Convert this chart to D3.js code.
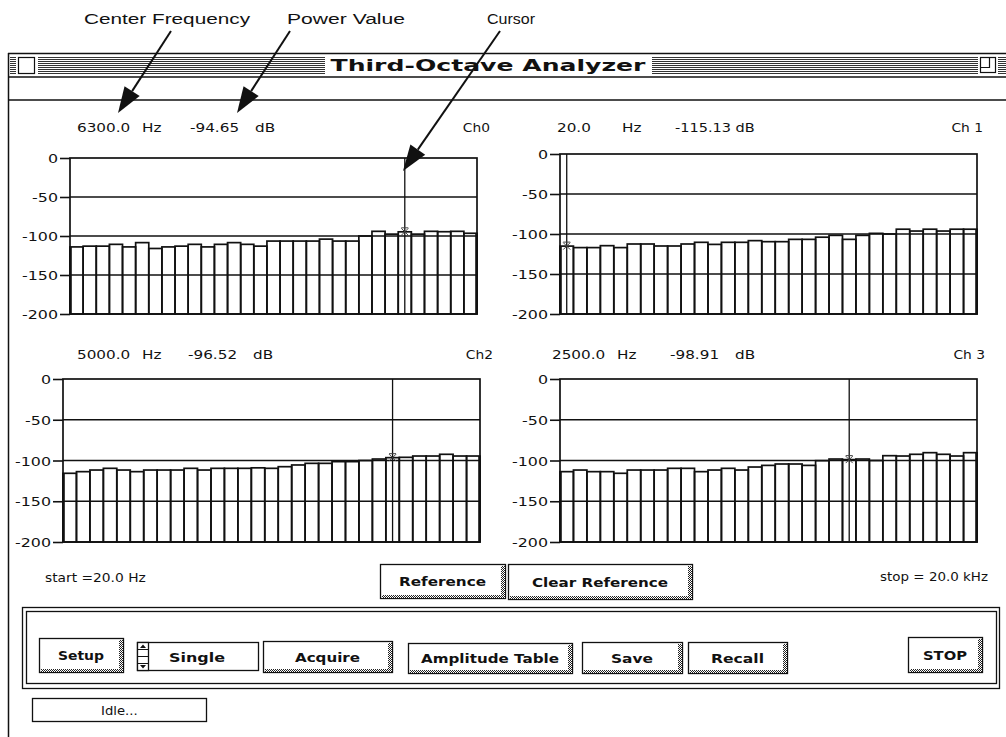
<!DOCTYPE html>
<html><head><meta charset="utf-8">
<script src="https://cdn.jsdelivr.net/npm/d3@7"></script>
<style>html,body{margin:0;padding:0;background:#fff;}svg{display:block;}</style>
</head><body>
<script>
// ---------- data ----------
const bands = ["20","25","31.5","40","50","63","80","100","125","160","200","250","315","400","500","630","800","1k","1.25k","1.6k","2k","2.5k","3.15k","4k","5k","6.3k","8k","10k","12.5k","16k","20k"];
const ch0 = [-114,-113,-113,-110.7,-114,-108.5,-116,-114,-113,-110.7,-114,-110.7,-108.5,-110.7,-113,-106.5,-106.5,-106.5,-106.5,-104,-106.5,-106.5,-100,-94,-97.6,-94.65,-97.6,-94,-94.5,-94,-96.5];
const ch1 = [-115.13,-117,-117,-114.6,-117,-112.5,-112.5,-115,-115,-112.5,-110.4,-113,-110.4,-110.4,-108.3,-109.6,-109.6,-106.7,-106.7,-104,-101.7,-106.7,-101.7,-99.2,-100,-94,-96.3,-94,-96.3,-94,-94];
const ch2 = [-115.7,-113.7,-111.7,-109.6,-111.7,-113.7,-111.7,-111.7,-111.7,-109.6,-111.7,-109.6,-109.6,-109.6,-109,-109.6,-107.6,-105.5,-103.5,-103.5,-101.4,-101.4,-100,-98.2,-96.52,-96.1,-94.5,-94.5,-92.4,-94.5,-94.5];
const ch3 = [-113.7,-111.7,-113.7,-113.7,-115.7,-111.7,-111.7,-111.7,-109.6,-109.6,-113.7,-111.7,-109.6,-111.7,-108,-106,-104.3,-104.3,-106,-100.2,-98.2,-98.91,-98.2,-100,-94.1,-94.5,-92.4,-90.4,-92.4,-94.5,-90.4];
const yTicks = [0,-50,-100,-150,-200];
const channelNames = ["Ch0","Ch 1","Ch2","Ch 3"];
const cursorBands = ["6.3k","20","5k","2.5k"];
const freqTexts = ["6300.0","20.0","5000.0","2500.0"];
const powerTexts = ["-94.65","-115.13","-96.52","-98.91"];
const buttonLabels = ["Setup","Acquire","Amplitude Table","Save","Recall","STOP"];
const refButtons = ["Reference","Clear Reference"];
const annotations = ["Center Frequency","Power Value","Cursor"];

// ---------- setup ----------
const W = 1006, H = 737;
const svg = d3.select("body").append("svg").attr("width", W).attr("height", H)
  .style("font-family", "'DejaVu Sans', sans-serif");
const defs = svg.append("defs");
const pat = defs.append("pattern").attr("id","dither").attr("width",2).attr("height",2).attr("patternUnits","userSpaceOnUse");
pat.append("rect").attr("width",2).attr("height",2).attr("fill","#fff");
pat.append("rect").attr("width",1).attr("height",1).attr("fill","#222");
pat.append("rect").attr("x",1).attr("y",1).attr("width",1).attr("height",1).attr("fill","#222");
const ink = "#111";

function txt(parent, x, y, s, o = {}) {
  const sx = o.sx || 1;
  const t = parent.append("text")
    .attr("transform", `translate(${x},${y}) scale(${sx},1)`)
    .attr("text-anchor", o.anchor || "start")
    .attr("font-size", o.size || 12)
    .attr("font-weight", o.weight || "normal")
    .attr("font-family", o.family || null)
    .attr("fill", ink)
    .text(s);
  if (o.len) t.attr("textLength", o.len / sx).attr("lengthAdjust", "spacingAndGlyphs");
  return t;
}

// ---------- window frame ----------
svg.append("line").attr("x1",8.5).attr("x2",8.5).attr("y1",53).attr("y2",H).attr("stroke",ink).attr("stroke-width",1.5);
svg.append("line").attr("x1",8).attr("x2",W).attr("y1",53.5).attr("y2",53.5).attr("stroke",ink).attr("stroke-width",1.5);
svg.append("line").attr("x1",8).attr("x2",W).attr("y1",77).attr("y2",77).attr("stroke",ink).attr("stroke-width",1.5);
svg.append("line").attr("x1",8).attr("x2",W).attr("y1",100).attr("y2",100).attr("stroke",ink).attr("stroke-width",1.5);
// title bar stripes
const stripeY = d3.range(57, 74, 2);
[[10,16],[38,325],[652,978],[998,W]].forEach(([a,b]) => {
  stripeY.forEach(y => svg.append("line").attr("x1",a).attr("x2",b).attr("y1",y+0.5).attr("y2",y+0.5).attr("stroke","#333").attr("stroke-width",1));
});
svg.append("rect").attr("x",18.5).attr("y",57.5).attr("width",16).attr("height",16).attr("fill","#fff").attr("stroke",ink).attr("stroke-width",1.2);
svg.append("rect").attr("x",980.5).attr("y",57.5).attr("width",15).attr("height",15).attr("fill","#fff").attr("stroke",ink).attr("stroke-width",1.2);
svg.append("path").attr("d","M980.5,67.5 H989.5 V57.5").attr("fill","none").attr("stroke",ink).attr("stroke-width",1.2);
txt(svg, 488, 71, "Third-Octave Analyzer", {anchor:"middle", size:15, weight:"bold", len:315});

// ---------- panels ----------
const panels = [
  {data: ch0, left:70, right:477, top:158, bottom:314, hy:132, fx:77, hzx:142, px:190, dbx:255, chx:490},
  {data: ch1, left:560, right:977, top:154, bottom:314, hy:132, fx:557, hzx:622, px:675, dbx:735, chx:983},
  {data: ch2, left:63, right:480, top:379, bottom:542, hy:359, fx:77, hzx:142, px:188, dbx:253, chx:493},
  {data: ch3, left:560, right:977, top:379, bottom:542, hy:359, fx:552, hzx:617, px:670, dbx:735, chx:985}
];
const SX = 1.27;

panels.forEach((p, i) => {
  const g = svg.append("g");
  const x = d3.scaleBand().domain(bands).range([p.left, p.right]).paddingInner(0).paddingOuter(0);
  const y = d3.scaleLinear().domain([-200, 0]).range([p.bottom, p.top]);

  // header texts
  txt(g, p.fx, p.hy, freqTexts[i], {size:12, sx:SX});
  txt(g, p.hzx, p.hy, "Hz", {size:12, sx:SX});
  if (i === 1) {
    txt(g, p.px, p.hy, powerTexts[i] + " dB", {size:12, sx:SX - 0.06});
  } else {
    txt(g, p.px, p.hy, powerTexts[i], {size:12, sx:SX});
    txt(g, p.dbx, p.hy, "dB", {size:12, sx:SX});
  }
  txt(g, p.chx, p.hy, channelNames[i], {size:12, sx:1.15, anchor:"end"});

  // bars (outline only)
  g.append("g").selectAll("rect").data(p.data).join("rect")
    .attr("x", (d, j) => x(bands[j]))
    .attr("y", d => y(d))
    .attr("width", x.bandwidth())
    .attr("height", d => y(-200) - y(d))
    .attr("fill", "none").attr("stroke", ink).attr("stroke-width", 1.7);

  // grid lines
  g.append("g").selectAll("line").data(yTicks.filter(t => t !== 0 && t !== -200)).join("line")
    .attr("x1", p.left).attr("x2", p.right)
    .attr("y1", d => y(d)).attr("y2", d => y(d))
    .attr("stroke", ink).attr("stroke-width", 1.6);

  // frame
  g.append("rect").attr("x", p.left).attr("y", p.top).attr("width", p.right - p.left).attr("height", p.bottom - p.top)
    .attr("fill", "none").attr("stroke", ink).attr("stroke-width", 1.7);
  g.append("line").attr("x1", p.left + 0.5).attr("x2", p.left + 0.5).attr("y1", y(p.data[0])).attr("y2", p.bottom)
    .attr("stroke", ink).attr("stroke-width", 2.6);
  g.append("line").attr("x1", p.right - 0.5).attr("x2", p.right - 0.5).attr("y1", y(p.data[p.data.length-1])).attr("y2", p.bottom)
    .attr("stroke", ink).attr("stroke-width", 2.6);

  // axis
  const ax = g.append("g").attr("transform", `translate(${p.left},0)`)
    .call(d3.axisLeft(y).tickValues(yTicks).tickSize(10).tickPadding(2).tickFormat(d => String(d)));
  ax.select(".domain").remove();
  ax.selectAll(".tick line").attr("stroke", ink).attr("stroke-width", 1.6);
  ax.selectAll(".tick text")
    .attr("x", null).attr("dy", "0.36em")
    .attr("transform", `translate(-12,0) scale(${SX},1)`)
    .attr("font-size", 12.5).attr("font-family", "'DejaVu Sans', sans-serif").attr("fill", ink);

  // cursor
  const ci = bands.indexOf(cursorBands[i]);
  const cx = x(cursorBands[i]) + x.bandwidth() / 2;
  g.append("line").attr("x1", cx).attr("x2", cx).attr("y1", p.top).attr("y2", p.bottom)
    .attr("stroke", ink).attr("stroke-width", 1.3);
  const cy = y(p.data[ci]);
  g.append("path").attr("d", `M${cx-3.5},${cy-3.5}L${cx+3.5},${cy+3.5}M${cx+3.5},${cy-3.5}L${cx-3.5},${cy+3.5}M${cx-3.5},${cy-4}H${cx+3.5}`)
    .attr("stroke", "#444").attr("stroke-width", 1).attr("fill", "none");
});

// ---------- bottom controls ----------
txt(svg, 45, 582, "start  =20.0 Hz", {size:12, sx:1.15});
txt(svg, 988, 581, "stop  = 20.0 kHz", {size:12, sx:1.12, anchor:"end"});

function button(x0, y0, w, h, label, opts = {}) {
  const g = svg.append("g");
  g.append("rect").attr("x", x0 + 0.5).attr("y", y0 + 0.5).attr("width", w).attr("height", h)
    .attr("fill", "#fff").attr("stroke", ink).attr("stroke-width", 1.3);
  if (!opts.noShadow) {
    g.append("rect").attr("x", x0 + w - 4).attr("y", y0 + 2).attr("width", 4).attr("height", h - 2).attr("fill", "url(#dither)");
    g.append("rect").attr("x", x0 + 2).attr("y", y0 + h - 3).attr("width", w - 2).attr("height", 3).attr("fill", "url(#dither)");
  }
  txt(g, opts.tx != null ? opts.tx : x0 + w / 2, y0 + h / 2 + 5, label,
      {anchor:"middle", size:12.5, weight:"bold", len: opts.len});
  return g;
}

button(380, 564, 125, 34, refButtons[0], {len:87});
button(508, 564, 184, 35, refButtons[1], {len:136});

// group box (double line)
svg.append("rect").attr("x", 22.5).attr("y", 607.5).attr("width", 977).attr("height", 81).attr("fill","none").attr("stroke", ink).attr("stroke-width", 1.3);
svg.append("rect").attr("x", 26.5).attr("y", 611.5).attr("width", 970).attr("height", 72).attr("fill","none").attr("stroke", ink).attr("stroke-width", 1.3);

button(39, 638, 84, 34, buttonLabels[0], {len:46});
// Single selector
svg.append("rect").attr("x", 137.5).attr("y", 642.5).attr("width", 121).attr("height", 28).attr("fill","#fff").attr("stroke", ink).attr("stroke-width", 1.3);
svg.append("rect").attr("x", 137.5).attr("y", 642.5).attr("width", 11).attr("height", 28).attr("fill","#fff").attr("stroke", ink).attr("stroke-width", 1.3);
svg.append("line").attr("x1",137.5).attr("x2",148.5).attr("y1",649.5).attr("y2",649.5).attr("stroke",ink);
svg.append("line").attr("x1",137.5).attr("x2",148.5).attr("y1",656.5).attr("y2",656.5).attr("stroke",ink);
svg.append("line").attr("x1",137.5).attr("x2",148.5).attr("y1",663.5).attr("y2",663.5).attr("stroke",ink);
svg.append("path").attr("d","M140,648 L143,644.5 L146,648 Z M140,665 L143,668.5 L146,665 Z").attr("fill",ink);
txt(svg, 197, 662, "Single", {anchor:"middle", size:12.5, weight:"bold", len:56});

button(263, 641, 129, 31, buttonLabels[1], {len:65});
button(408, 643, 164, 30, buttonLabels[2], {len:138});
button(582, 642, 100, 31, buttonLabels[3], {len:42});
button(688, 642, 99, 31, buttonLabels[4], {len:53});
button(908, 637, 74, 35, buttonLabels[5], {len:44});

// status box
svg.append("rect").attr("x", 32.5).attr("y", 698.5).attr("width", 174).attr("height", 23).attr("fill","#fff").attr("stroke", ink).attr("stroke-width", 1.3);
txt(svg, 101, 715, "Idle...", {size:12, sx:1.1});

// ---------- annotations ----------
const annX = [84, 287, 487];
const annLen = [166, 118, 48];
annotations.forEach((a, i) => {
  txt(svg, annX[i], 24, a, {size:15.5, family:"'Liberation Sans', Arial, sans-serif", len: annLen[i]});
});
function arrow(x1, y1, x2, y2) {
  const ang = Math.atan2(y2 - y1, x2 - x1);
  const L = 26, Wd = 9;
  const bx = x2 - L * Math.cos(ang), by = y2 - L * Math.sin(ang);
  svg.append("line").attr("x1", x1).attr("y1", y1).attr("x2", bx).attr("y2", by).attr("stroke", ink).attr("stroke-width", 2);
  const nx = -Math.sin(ang), ny = Math.cos(ang);
  svg.append("path").attr("d", `M${x2},${y2}L${bx + nx*Wd},${by + ny*Wd}L${bx - nx*Wd},${by - ny*Wd}Z`).attr("fill", ink);
}
arrow(171, 31, 118, 113);
arrow(290, 31, 237, 113);
arrow(500, 31, 403, 171);
</script>
</body></html>
